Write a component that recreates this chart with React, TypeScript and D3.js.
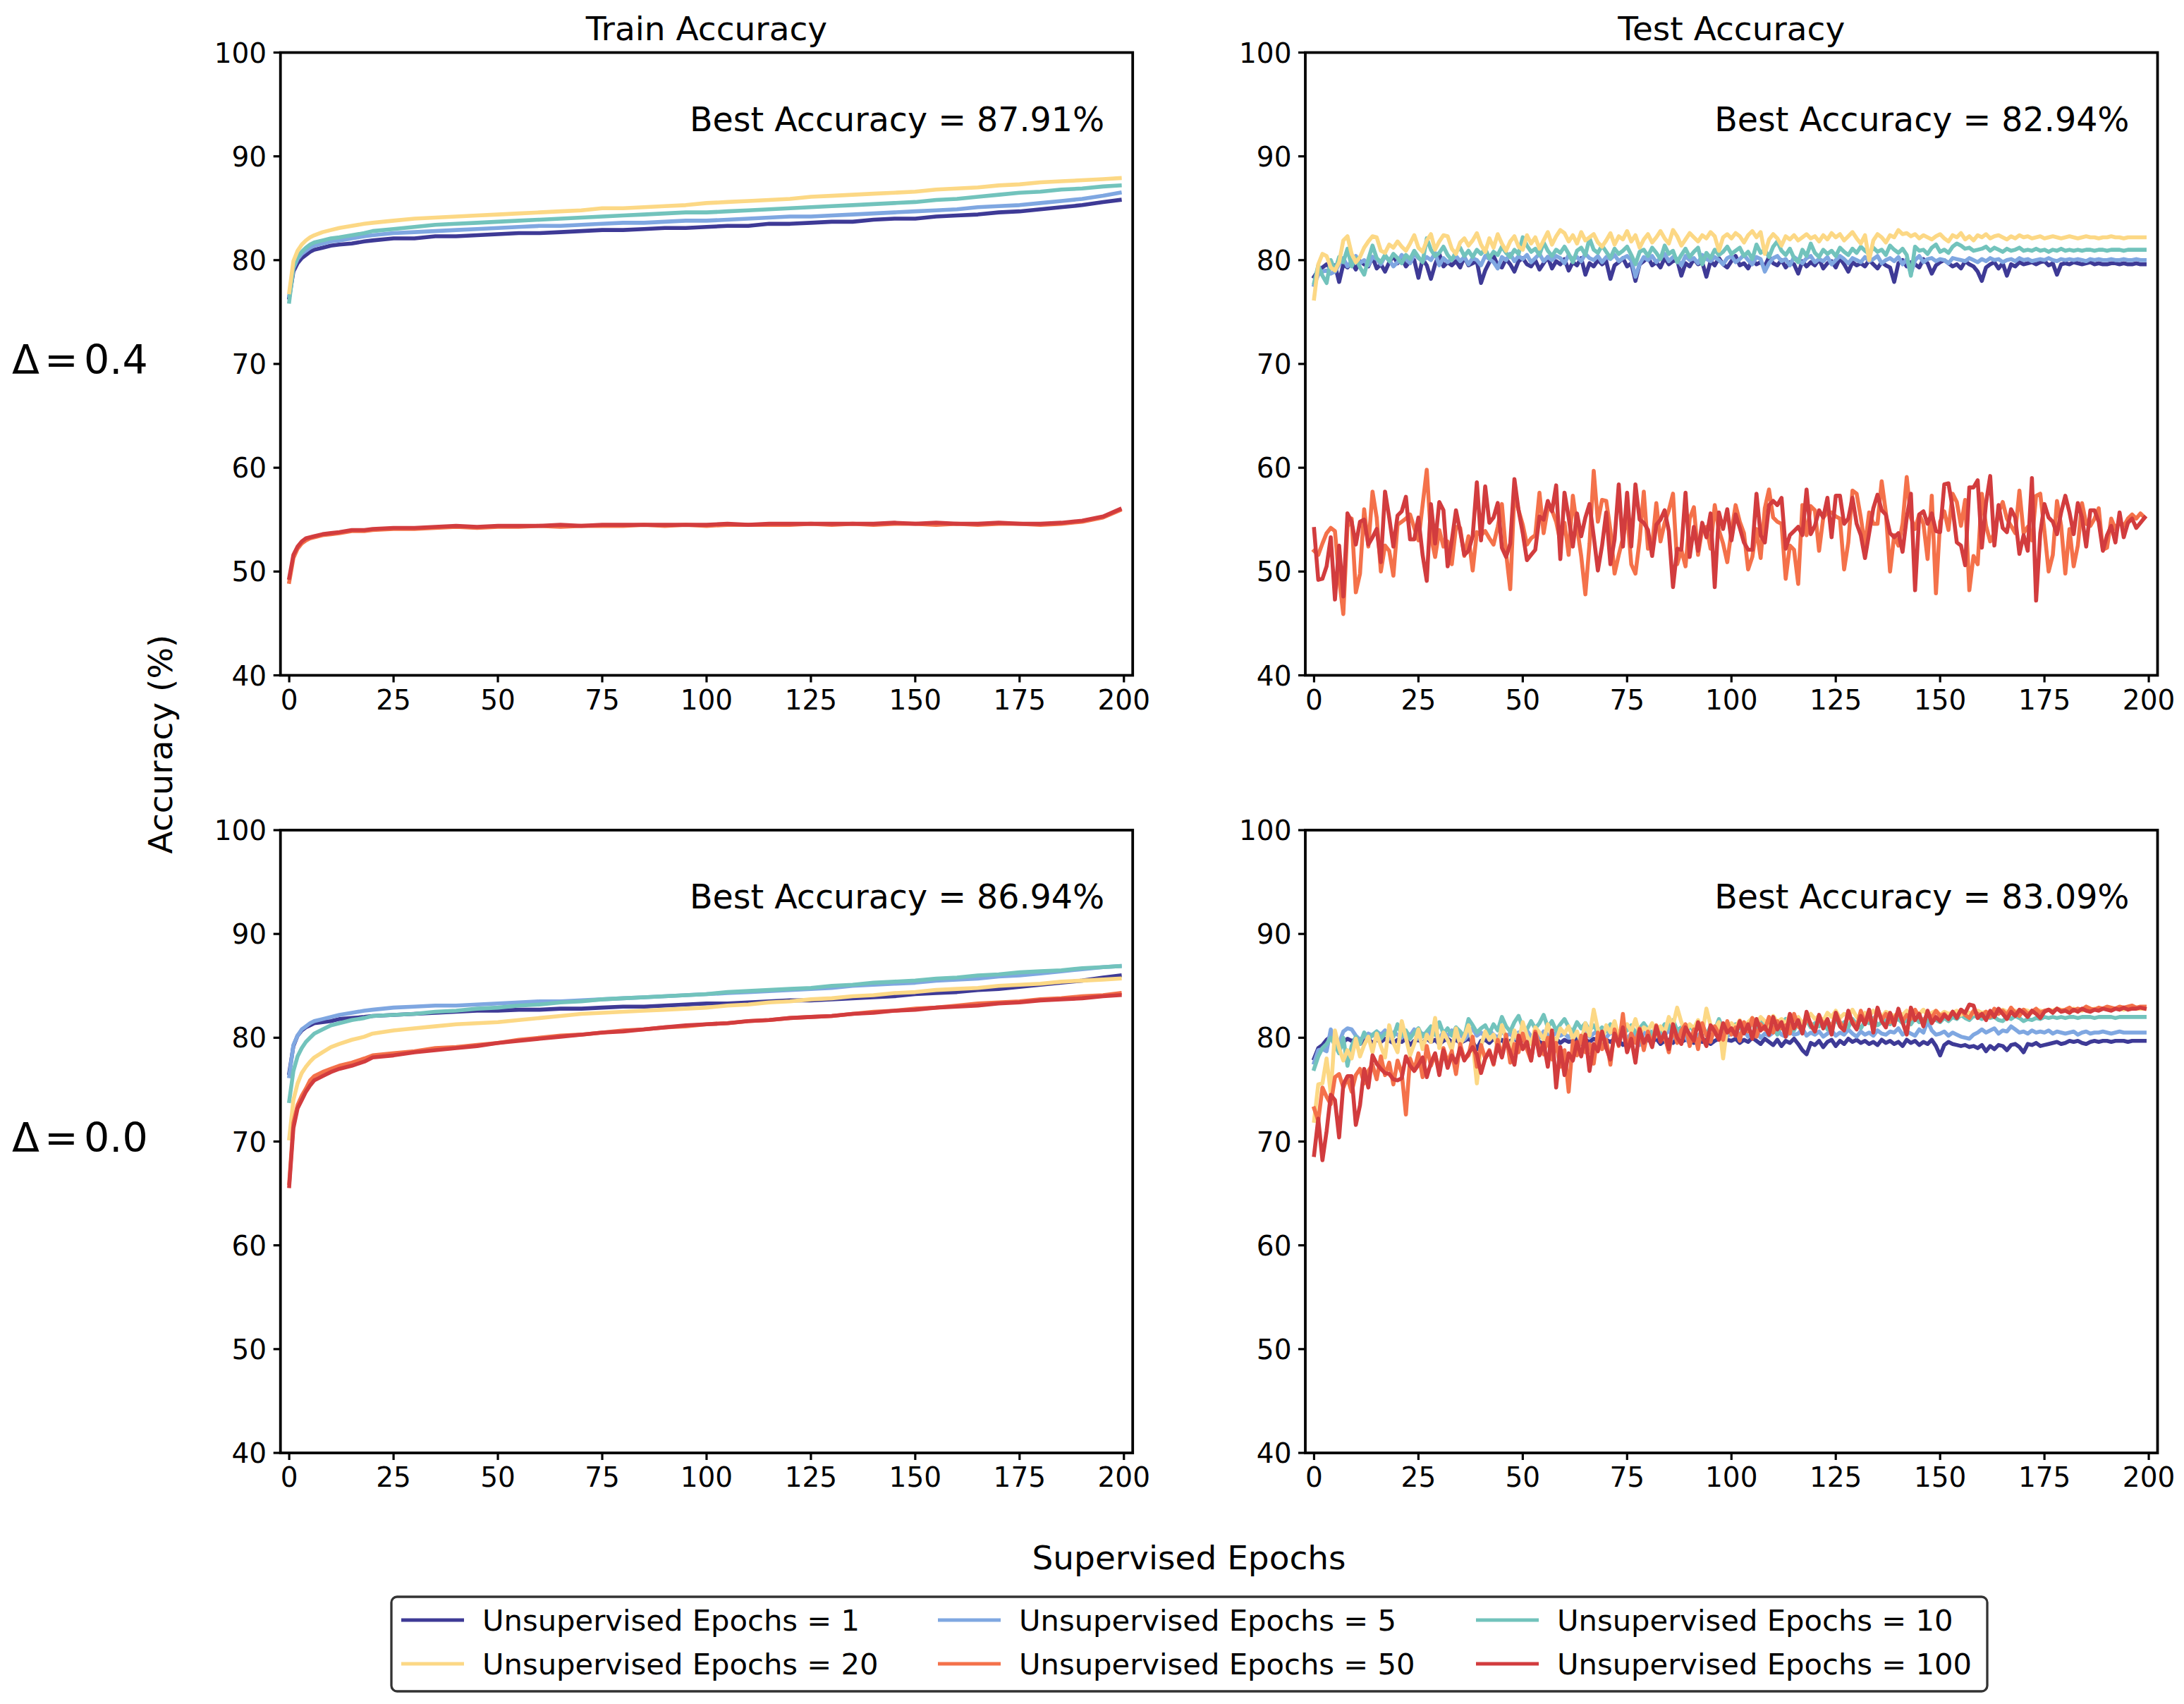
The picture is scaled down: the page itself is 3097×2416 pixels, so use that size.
import * as d3 from "d3";

// ---- data ----

// epochs at which the smooth train curves were read
const trainEpochs = [
  0, 1, 2, 3, 4, 5, 6, 8, 10, 12, 15, 18,
  20, 25, 30, 35, 40, 45, 50, 55, 60, 65, 70, 75,
  80, 85, 90, 95, 100, 105, 110, 115, 120, 125, 130, 135,
  140, 145, 150, 155, 160, 165, 170, 175, 180, 185, 190, 195,
  199,
];

// test curves: one value per epoch 0..199
const testEpochs = d3.range(200);

// Δ = 0.4, train accuracy
const train04_e1 = [
  76.4, 78.9, 79.7, 80.2, 80.5, 80.8, 81.0, 81.2, 81.4, 81.5, 81.6, 81.8,
  81.9, 82.1, 82.1, 82.3, 82.3, 82.4, 82.5, 82.6, 82.6, 82.7, 82.8, 82.9,
  82.9, 83.0, 83.1, 83.1, 83.2, 83.3, 83.3, 83.5, 83.5, 83.6, 83.7, 83.7,
  83.9, 84.0, 84.0, 84.2, 84.3, 84.4, 84.6, 84.7, 84.9, 85.1, 85.3, 85.6,
  85.8,
];
const train04_e5 = [
  76.6, 79.2, 80.1, 80.6, 80.9, 81.2, 81.4, 81.6, 81.8, 81.9, 82.1, 82.3,
  82.4, 82.6, 82.7, 82.8, 82.9, 83.0, 83.1, 83.2, 83.3, 83.3, 83.4, 83.5,
  83.6, 83.6, 83.7, 83.8, 83.8, 83.9, 84.0, 84.1, 84.2, 84.2, 84.3, 84.4,
  84.5, 84.6, 84.7, 84.8, 84.9, 85.1, 85.2, 85.3, 85.5, 85.7, 85.9, 86.2,
  86.5,
];
const train04_e10 = [
  76.0, 79.3, 80.3, 80.8, 81.2, 81.5, 81.7, 81.9, 82.1, 82.2, 82.4, 82.6,
  82.8, 83.0, 83.2, 83.4, 83.5, 83.6, 83.7, 83.8, 83.9, 84.0, 84.1, 84.2,
  84.3, 84.4, 84.5, 84.6, 84.6, 84.7, 84.8, 84.9, 85.0, 85.1, 85.2, 85.3,
  85.4, 85.5, 85.6, 85.8, 85.9, 86.1, 86.3, 86.5, 86.6, 86.8, 86.9, 87.1,
  87.2,
];
const train04_e20 = [
  76.9, 79.9, 80.9, 81.5, 81.9, 82.2, 82.4, 82.7, 82.9, 83.1, 83.3, 83.5,
  83.6, 83.8, 84.0, 84.1, 84.2, 84.3, 84.4, 84.5, 84.6, 84.7, 84.8, 85.0,
  85.0, 85.1, 85.2, 85.3, 85.5, 85.6, 85.7, 85.8, 85.9, 86.1, 86.2, 86.3,
  86.4, 86.5, 86.6, 86.8, 86.9, 87.0, 87.2, 87.3, 87.5, 87.6, 87.7, 87.8,
  87.9,
];
const train04_e50 = [
  49.0, 51.3, 52.2, 52.7, 53.0, 53.2, 53.3, 53.5, 53.6, 53.7, 53.9, 53.9,
  54.0, 54.1, 54.1, 54.2, 54.3, 54.2, 54.3, 54.3, 54.4, 54.3, 54.4, 54.4,
  54.4, 54.5, 54.4, 54.5, 54.4, 54.5, 54.5, 54.5, 54.5, 54.6, 54.5, 54.6,
  54.5, 54.6, 54.6, 54.5, 54.6, 54.5, 54.6, 54.6, 54.5, 54.6, 54.8, 55.2,
  55.9,
];
const train04_e100 = [
  49.4, 51.6, 52.4, 52.9, 53.2, 53.3, 53.4, 53.6, 53.7, 53.8, 54.0, 54.0,
  54.1, 54.2, 54.2, 54.3, 54.4, 54.3, 54.4, 54.4, 54.4, 54.5, 54.4, 54.5,
  54.5, 54.5, 54.5, 54.5, 54.5, 54.6, 54.5, 54.6, 54.6, 54.6, 54.6, 54.6,
  54.6, 54.7, 54.6, 54.7, 54.6, 54.6, 54.7, 54.6, 54.6, 54.7, 54.9, 55.3,
  56.0,
];

// Δ = 0.0, train accuracy
const train00_e1 = [
  76.6, 79.2, 80.2, 80.7, 81.0, 81.2, 81.4, 81.5, 81.6, 81.8, 81.9, 82.0,
  82.1, 82.2, 82.3, 82.4, 82.5, 82.6, 82.6, 82.7, 82.7, 82.8, 82.8, 82.9,
  83.0, 83.0, 83.1, 83.2, 83.3, 83.3, 83.4, 83.5, 83.6, 83.6, 83.7, 83.8,
  83.9, 84.0, 84.2, 84.3, 84.4, 84.6, 84.7, 84.9, 85.1, 85.3, 85.5, 85.8,
  86.0,
];
const train00_e5 = [
  76.3, 79.3, 80.2, 80.8, 81.1, 81.4, 81.6, 81.8, 82.0, 82.2, 82.4, 82.6,
  82.7, 82.9, 83.0, 83.1, 83.1, 83.2, 83.3, 83.4, 83.5, 83.5, 83.6, 83.7,
  83.8, 83.9, 84.0, 84.1, 84.2, 84.3, 84.4, 84.5, 84.6, 84.7, 84.8, 85.0,
  85.1, 85.2, 85.3, 85.5, 85.6, 85.7, 85.9, 86.0, 86.2, 86.4, 86.6, 86.8,
  86.9,
];
const train00_e10 = [
  73.9, 76.8, 78.2, 79.0, 79.6, 80.0, 80.4, 80.8, 81.2, 81.4, 81.7, 81.9,
  82.1, 82.2, 82.3, 82.5, 82.6, 82.8, 82.9, 83.1, 83.2, 83.4, 83.5, 83.7,
  83.8, 83.9, 84.0, 84.1, 84.2, 84.4, 84.5, 84.6, 84.7, 84.8, 85.0, 85.1,
  85.3, 85.4, 85.5, 85.7, 85.8, 86.0, 86.1, 86.3, 86.4, 86.5, 86.7, 86.8,
  86.9,
];
const train00_e20 = [
  70.3, 74.0, 75.6, 76.6, 77.2, 77.7, 78.1, 78.6, 79.1, 79.4, 79.8, 80.1,
  80.4, 80.7, 80.9, 81.1, 81.3, 81.4, 81.5, 81.7, 81.9, 82.1, 82.3, 82.4,
  82.5, 82.6, 82.7, 82.8, 82.9, 83.1, 83.2, 83.4, 83.5, 83.7, 83.8, 84.0,
  84.1, 84.3, 84.4, 84.6, 84.7, 84.8, 85.0, 85.1, 85.2, 85.4, 85.5, 85.6,
  85.7,
];
const train00_e50 = [
  66.0, 71.8, 73.5, 74.4, 75.1, 75.9, 76.3, 76.7, 77.0, 77.3, 77.6, 78.0,
  78.3, 78.5, 78.7, 79.0, 79.1, 79.3, 79.5, 79.8, 80.0, 80.2, 80.3, 80.5,
  80.7, 80.8, 81.0, 81.1, 81.3, 81.4, 81.6, 81.7, 81.9, 82.0, 82.1, 82.3,
  82.5, 82.6, 82.8, 82.9, 83.1, 83.3, 83.4, 83.5, 83.7, 83.8, 84.0, 84.1,
  84.3,
];
const train00_e100 = [
  65.7, 71.3, 73.2, 74.0, 74.8, 75.4, 75.9, 76.3, 76.7, 77.0, 77.3, 77.7,
  78.1, 78.3, 78.6, 78.8, 79.0, 79.2, 79.5, 79.7, 79.9, 80.1, 80.3, 80.5,
  80.6, 80.8, 81.0, 81.2, 81.3, 81.4, 81.6, 81.7, 81.9, 82.0, 82.1, 82.3,
  82.4, 82.6, 82.7, 82.9, 83.0, 83.1, 83.3, 83.4, 83.6, 83.7, 83.8, 84.0,
  84.1,
];

// Δ = 0.4, test accuracy
const test04_e1 = [
  78.4, 79.0, 79.3, 79.6, 79.2, 79.5, 77.9, 79.6, 79.3, 79.8, 79.1, 79.9, 79.6, 79.4, 80.3, 79.2, 79.6, 78.9, 79.8, 80.4,
  79.7, 80.2, 79.4, 79.9, 80.0, 78.3, 80.1, 79.5, 78.2, 79.6, 80.6, 79.4, 79.8, 79.5, 79.9, 79.3, 80.3, 79.5, 79.7, 79.9,
  77.8, 79.0, 79.8, 80.4, 79.5, 79.3, 80.1, 79.6, 78.9, 79.9, 80.2, 79.6, 79.4, 80.0, 79.1, 79.7, 80.3, 79.2, 79.9, 79.6,
  80.1, 79.0, 79.8, 79.5, 80.2, 78.6, 79.7, 79.4, 80.0, 79.6, 79.9, 78.2, 79.5, 79.8, 80.2, 79.4, 79.7, 78.0, 79.6, 79.9,
  80.3, 79.5, 79.8, 79.3, 80.2, 79.6, 79.9, 80.0, 78.5, 79.7, 79.4, 80.1, 79.6, 79.8, 78.4, 79.9, 79.5, 80.2, 79.6, 79.3,
  79.9, 80.4, 79.5, 79.7, 79.2, 80.0, 79.6, 79.8, 79.4, 80.3, 79.7, 79.5, 80.0, 79.3, 79.8, 79.6, 78.7, 79.9, 79.4, 79.8,
  79.5, 80.1, 79.2, 79.7, 79.9, 79.3, 80.2, 79.6, 78.9, 79.8, 79.5, 79.7, 79.4, 80.0, 79.6, 79.2, 79.8, 79.5, 79.3, 77.9,
  79.7, 80.0, 79.4, 79.8, 79.6, 79.3, 80.1, 79.7, 78.7, 79.5, 79.8, 80.0, 79.7, 79.4, 79.6, 79.2, 79.9, 79.6, 79.4, 78.9,
  78.0, 79.3, 79.6, 79.8, 79.2, 79.7, 78.5, 79.6, 79.4, 79.8, 79.6, 79.7, 79.8, 79.6, 79.8, 79.9, 79.5, 79.7, 78.6, 79.6,
  79.7, 79.6, 79.8, 79.7, 79.6, 79.7, 79.8, 79.6, 79.7, 79.6, 79.6, 79.7, 79.7, 79.6, 79.7, 79.6, 79.6, 79.7, 79.6, 79.6,
];
const test04_e5 = [
  77.6, 78.6, 78.9, 79.0, 78.7, 78.9, 79.6, 80.2, 79.4, 79.9, 80.4, 79.7, 80.0, 79.5, 80.3, 80.1, 79.6, 80.4, 80.0, 79.4,
  79.8, 80.5, 80.1, 79.7, 80.6, 80.2, 79.9, 80.3, 80.0, 80.7, 79.5, 80.2, 79.8, 80.1, 80.4, 79.9, 80.3, 79.6, 80.2, 80.0,
  79.5, 80.4, 80.1, 79.8, 79.2, 80.3, 80.0, 80.6, 79.9, 80.4, 80.1, 80.5, 79.8, 80.2, 80.6, 79.9, 80.3, 80.0, 80.4, 80.2,
  79.7, 80.5, 80.1, 80.3, 79.9, 80.6, 80.2, 80.0, 80.4, 79.8, 80.3, 80.1, 80.5, 79.9, 80.2, 80.4, 80.0, 78.4, 79.6, 80.3,
  80.0, 80.4, 79.8, 80.2, 80.6, 79.9, 80.3, 80.1, 79.5, 80.4, 80.0, 80.2, 79.7, 80.5, 80.1, 79.9, 80.3, 80.0, 79.6, 80.2,
  80.4, 79.8, 80.1, 80.5, 80.0, 79.6, 80.3, 80.1, 78.9, 79.7, 80.2, 80.4, 79.9, 80.1, 79.5, 80.3, 80.0, 79.7, 80.2, 80.4,
  79.8, 80.1, 79.9, 80.3, 79.6, 80.0, 80.4, 80.1, 79.7, 80.2, 80.0, 79.8, 80.3, 79.9, 80.1, 80.4, 79.7, 80.0, 80.2, 79.9,
  80.3, 79.6, 80.1, 78.7, 80.0, 80.4, 79.8, 80.1, 80.2, 79.9, 80.1, 80.0, 79.7, 80.2, 80.1, 80.0, 79.9, 80.2, 80.0, 79.8,
  80.1, 79.9, 80.2, 80.0, 80.1, 79.8, 80.0, 80.1, 79.9, 80.2, 80.0, 80.1, 79.9, 80.0, 80.1, 80.0, 80.2, 80.0, 79.9, 80.1,
  80.0, 80.1, 80.0, 80.1, 80.0, 79.9, 80.1, 80.0, 80.1, 80.0, 80.0, 80.1, 80.0, 80.0, 80.1, 80.0, 80.0, 80.1, 80.0, 80.0,
];
const test04_e10 = [
  77.8, 79.5, 78.5, 77.8, 80.0, 79.0, 80.3, 79.8, 81.1, 79.4, 80.2, 79.3, 78.6, 80.1, 81.4, 80.2, 79.8, 80.5, 79.9, 80.6,
  80.2, 79.7, 80.5, 80.1, 80.9, 80.3, 79.8, 82.1, 81.0, 80.4, 80.7, 81.3, 80.5, 80.0, 80.8, 81.2, 80.4, 80.9, 80.3, 81.0,
  80.6, 81.1, 80.2, 80.8, 80.5, 81.3, 80.7, 80.3, 81.0, 80.6, 82.2, 81.4, 80.8, 81.1, 80.5, 81.7, 80.9, 80.4, 81.0, 80.7,
  81.3, 80.6, 79.8, 80.9, 81.2, 80.5, 82.1, 81.0, 80.7, 81.4, 80.8, 80.2, 81.1, 80.6, 80.9, 81.3, 80.5, 79.6, 80.8, 81.0,
  80.4, 81.2, 80.7, 80.1, 81.4, 80.6, 80.9, 79.8, 80.5, 81.1, 80.3, 80.8, 81.2, 79.6, 80.7, 80.2, 81.0, 80.5, 80.8, 81.3,
  80.6, 80.9, 81.2, 80.4, 80.8, 80.1, 81.5, 80.7, 81.0, 80.3, 81.3, 81.8, 80.9, 80.5, 81.1, 80.2, 79.8, 81.0, 80.4, 81.6,
  80.7, 80.3, 81.0, 80.6, 80.9, 80.4, 81.2, 80.8, 80.5, 81.1, 80.7, 81.3, 80.9, 80.6, 81.2, 80.8, 81.0, 80.5, 81.4, 81.0,
  80.7, 81.1, 80.5, 78.5, 81.3, 80.9, 81.0, 80.6, 81.2, 81.5, 80.8, 81.0, 80.7, 81.3, 81.6, 81.4, 81.1, 81.2, 80.9, 81.0,
  81.1, 81.3, 80.9, 81.2, 81.0, 80.8, 81.1, 80.9, 81.0, 81.2, 80.9, 81.0, 80.9, 81.1, 80.9, 81.0, 80.8, 81.0, 80.9, 81.1,
  80.9, 81.0, 80.9, 81.0, 80.9, 81.0, 81.0, 80.9, 81.0, 81.0, 80.9, 81.0, 81.0, 81.0, 80.9, 81.0, 81.0, 81.0, 81.0, 81.0,
];
const test04_e20 = [
  76.3, 79.6, 80.6, 80.4, 79.3, 79.0, 79.8, 81.9, 82.3, 80.6, 79.8, 80.3, 81.2, 81.8, 82.3, 82.2, 80.9, 80.7, 81.5, 81.2,
  81.8, 81.3, 80.9, 81.6, 82.4, 81.2, 80.8, 81.9, 82.5, 81.0, 81.8, 82.4, 82.3, 81.1, 80.6, 81.7, 82.1, 81.4, 81.9, 82.6,
  81.5, 80.8, 82.1, 81.2, 82.5, 81.6, 80.9, 81.8, 82.3, 81.3, 81.0, 82.4, 81.6, 82.2, 81.1, 81.9, 82.7, 81.5, 82.3, 82.9,
  82.6, 81.8, 82.4, 81.6, 82.7, 81.9, 82.2, 82.5, 81.7, 81.3, 81.9, 82.6, 81.5, 82.3, 82.0, 82.8, 81.8, 82.4, 81.2, 82.0,
  82.5, 81.7, 82.2, 82.8, 82.1, 81.6, 82.9, 82.3, 81.4, 82.0, 82.6, 82.2, 81.8, 82.4, 82.1, 82.7, 82.3, 80.9, 82.2, 82.5,
  82.1, 82.6, 82.3, 81.7, 82.4, 82.8, 82.2, 82.7, 80.6, 82.0, 82.5, 82.1, 81.4, 82.3, 82.0, 82.4, 81.9, 82.2, 82.5, 82.1,
  82.3, 81.8, 82.4, 82.0, 82.6, 82.2, 82.5, 81.9, 82.3, 82.7, 82.1, 81.6, 82.4, 80.0, 81.9, 82.5, 82.2, 81.7, 82.4, 82.2,
  82.9, 82.5, 82.6, 82.3, 82.5, 82.1, 82.4, 82.2, 82.0, 82.3, 82.5, 82.1, 81.8, 82.4, 82.2, 82.6, 82.0, 82.3, 81.9, 82.4,
  82.2, 82.5, 82.1, 82.3, 82.4, 82.2, 82.0, 82.3, 82.1, 82.4, 82.2, 82.3, 82.1, 82.2, 82.3, 82.1, 82.2, 82.3, 82.2, 82.1,
  82.2, 82.3, 82.2, 82.1, 82.2, 82.3, 82.2, 82.2, 82.1, 82.2, 82.2, 82.3, 82.2, 82.2, 82.1, 82.2, 82.2, 82.2, 82.2, 82.2,
];
const test04_e50 = [
  52.0, 51.6, 52.7, 53.7, 54.2, 53.9, 49.3, 45.9, 54.3, 55.1, 48.0, 49.8, 56.0, 52.4, 57.7, 55.2, 50.0, 52.5, 52.0, 49.6,
  54.5, 54.8, 55.1, 55.5, 54.2, 53.0, 56.4, 59.8, 53.4, 51.4, 54.0, 52.4, 52.9, 50.7, 54.3, 54.2, 51.5, 53.4, 50.1, 53.8,
  53.5, 53.9, 53.2, 52.6, 54.3, 56.5, 51.8, 48.3, 57.6, 55.9, 54.5, 52.6, 53.2, 53.5, 57.6, 53.7, 56.1, 55.9, 54.8, 52.9,
  54.7, 51.6, 57.3, 54.3, 51.5, 47.8, 52.7, 59.7, 54.8, 56.9, 56.8, 54.0, 49.8, 51.6, 53.2, 55.6, 50.7, 49.8, 53.0, 57.7,
  52.2, 52.5, 56.6, 52.9, 54.7, 55.9, 57.5, 50.7, 52.1, 50.5, 55.1, 56.2, 51.6, 54.1, 54.3, 52.2, 56.4, 54.0, 52.7, 50.9,
  53.9, 56.4, 54.8, 53.7, 50.2, 51.4, 54.1, 51.3, 56.1, 57.9, 55.2, 54.8, 54.6, 49.3, 52.5, 52.1, 48.8, 56.4, 53.5, 56.3,
  55.9, 52.0, 55.2, 55.7, 55.7, 55.3, 55.1, 50.2, 52.8, 57.8, 57.5, 55.2, 52.5, 55.7, 54.6, 54.6, 58.7, 55.7, 50.0, 53.5,
  52.5, 54.6, 59.1, 55.2, 54.1, 55.5, 54.6, 51.2, 57.3, 47.9, 54.8, 55.8, 54.0, 57.5, 56.7, 54.4, 56.9, 48.2, 51.5, 50.7,
  57.5, 54.4, 52.9, 53.7, 55.7, 56.7, 55.1, 54.4, 53.7, 57.8, 53.7, 54.3, 53.0, 57.3, 57.5, 53.9, 50.0, 51.6, 56.8, 54.4,
  49.8, 54.1, 50.5, 52.5, 56.6, 54.6, 54.4, 55.1, 56.1, 52.1, 52.3, 55.1, 54.1, 54.8, 54.4, 55.1, 55.5, 55.1, 55.6, 55.2,
];
const test04_e100 = [
  54.1, 49.2, 49.3, 50.5, 53.3, 47.3, 52.5, 47.6, 55.6, 54.8, 52.6, 54.8, 55.0, 52.6, 53.3, 54.1, 50.9, 57.7, 55.2, 52.4,
  55.4, 55.8, 57.2, 53.1, 53.1, 55.2, 51.6, 49.1, 56.5, 52.7, 56.7, 55.9, 50.5, 53.0, 55.9, 53.9, 51.6, 52.0, 53.4, 58.6,
  53.0, 58.2, 54.7, 55.2, 56.6, 52.3, 51.4, 52.7, 58.9, 55.9, 53.7, 51.1, 51.6, 52.1, 55.3, 55.0, 56.8, 55.8, 58.3, 51.2,
  57.6, 55.2, 52.4, 55.6, 53.4, 55.2, 56.5, 53.4, 50.1, 52.5, 55.7, 50.7, 53.1, 58.4, 52.4, 57.6, 52.4, 58.4, 55.0, 54.7,
  54.0, 51.5, 54.5, 55.0, 55.9, 53.9, 48.5, 52.2, 52.1, 57.6, 51.4, 54.3, 52.0, 54.7, 53.3, 55.6, 48.5, 55.7, 54.1, 56.0,
  53.0, 55.5, 54.2, 52.8, 52.1, 52.1, 57.5, 53.5, 52.8, 56.4, 56.8, 56.4, 57.1, 52.2, 53.5, 53.9, 54.3, 53.5, 57.9, 53.6,
  54.4, 55.9, 55.2, 57.1, 53.3, 57.3, 57.3, 54.6, 55.1, 57.1, 54.6, 53.5, 51.3, 53.7, 56.1, 57.4, 55.9, 55.5, 53.7, 53.3,
  53.7, 51.9, 55.2, 57.5, 48.2, 55.5, 55.8, 54.6, 55.6, 53.9, 53.8, 58.4, 58.5, 56.1, 52.8, 52.5, 50.6, 58.1, 58.1, 58.8,
  52.3, 56.6, 59.2, 52.5, 56.4, 54.2, 53.8, 56.0, 55.2, 51.7, 53.5, 52.0, 59.0, 47.2, 53.7, 56.5, 55.2, 54.8, 53.6, 55.7,
  57.3, 55.7, 53.6, 56.6, 55.2, 52.4, 55.9, 55.9, 54.8, 52.0, 53.5, 54.4, 52.8, 55.7, 53.3, 54.7, 55.1, 54.2, 54.7, 55.2,
];

// Δ = 0.0, test accuracy
const test00_e1 = [
  78.0, 79.0, 79.3, 79.8, 80.1, 79.5, 78.8, 79.6, 79.9, 79.7, 79.8, 79.4, 79.7, 79.9, 79.5, 79.8, 79.6, 79.9, 79.7, 79.5,
  79.8, 79.6, 79.9, 79.3, 79.7, 79.8, 79.5, 79.9, 79.6, 79.8, 79.4, 79.7, 79.9, 79.6, 79.8, 79.5, 79.7, 79.9, 79.6, 78.9,
  79.7, 79.8, 79.5, 79.9, 79.6, 79.8, 79.3, 79.7, 79.9, 79.6, 79.8, 79.5, 79.7, 79.9, 79.6, 79.4, 79.8, 79.7, 79.9, 79.5,
  79.8, 79.6, 79.7, 79.9, 79.4, 79.8, 79.6, 79.9, 79.7, 79.5, 79.8, 79.6, 79.9, 79.7, 79.3, 79.8, 79.6, 79.9, 79.7, 79.5,
  79.8, 79.6, 79.9, 79.4, 79.7, 79.8, 79.5, 79.9, 79.6, 79.8, 79.7, 79.5, 79.9, 79.6, 79.8, 79.4, 79.7, 79.9, 79.6, 79.8,
  79.7, 79.9, 79.5, 79.8, 79.6, 80.0, 79.7, 79.4, 79.9, 79.6, 79.3, 79.8, 79.2, 79.7, 79.5, 79.9, 79.4, 78.8, 78.4, 79.5,
  79.3, 79.7, 79.1, 79.6, 79.8, 79.2, 79.7, 79.4, 79.9, 79.6, 79.8, 79.5, 79.7, 79.4, 79.6, 79.3, 79.8, 79.5, 79.7, 79.4,
  79.6, 79.2, 79.8, 79.5, 79.7, 79.3, 79.6, 79.4, 79.8, 79.2, 78.3, 79.3, 79.6, 79.4, 79.3, 79.2, 79.3, 79.1, 79.2, 79.0,
  79.3, 78.7, 79.2, 78.9, 79.3, 79.2, 78.8, 79.3, 79.4, 79.1, 78.6, 79.4, 79.3, 79.5, 79.2, 79.3, 79.4, 79.5, 79.6, 79.4,
  79.5, 79.7, 79.6, 79.7, 79.5, 79.4, 79.6, 79.7, 79.6, 79.7, 79.7, 79.6, 79.7, 79.7, 79.7, 79.6, 79.7, 79.7, 79.7, 79.7,
];
const test00_e5 = [
  77.6, 78.8, 78.9, 78.7, 80.8, 79.3, 79.5, 80.6, 80.9, 80.8, 80.2, 79.8, 80.1, 80.4, 80.2, 80.6, 80.3, 80.7, 79.9, 80.5,
  80.3, 80.0, 80.6, 80.2, 80.8, 79.9, 80.4, 80.1, 80.6, 80.3, 80.0, 80.5, 80.2, 80.7, 80.1, 80.4, 79.8, 80.3, 80.9, 80.2,
  80.5, 80.1, 80.7, 80.3, 80.0, 80.6, 80.2, 80.4, 79.9, 80.5, 80.2, 80.7, 80.1, 80.4, 80.0, 80.6, 80.3, 80.1, 80.5, 80.2,
  80.4, 80.0, 80.6, 80.3, 79.8, 80.5, 80.1, 80.4, 80.7, 80.2, 80.0, 80.5, 80.3, 80.1, 80.6, 79.9, 80.4, 80.2, 79.3, 80.5,
  80.3, 80.6, 80.1, 80.4, 80.2, 80.8, 80.0, 80.3, 80.5, 80.1, 79.4, 80.4, 80.2, 80.6, 80.3, 80.0, 80.5, 80.2, 80.4, 80.1,
  80.5, 80.2, 80.4, 80.7, 80.1, 80.3, 80.6, 80.0, 80.4, 80.2, 80.5, 80.8, 80.3, 80.1, 80.6, 80.3, 80.4, 80.9, 80.2, 80.5,
  80.3, 80.6, 80.1, 80.4, 80.7, 80.2, 80.5, 80.3, 80.8, 80.4, 80.1, 80.6, 80.3, 80.5, 80.2, 80.7, 80.4, 80.3, 80.6, 80.5,
  80.9, 80.3, 80.6, 80.4, 80.2, 80.8, 80.5, 81.6, 80.7, 80.3, 80.4, 80.6, 80.2, 80.5, 80.3, 80.1, 80.0, 79.9, 80.3, 80.5,
  80.8, 80.5, 80.7, 80.9, 80.4, 80.7, 80.6, 81.1, 80.8, 80.5, 80.6, 80.4, 80.7, 80.5, 80.6, 80.5, 80.7, 80.4, 80.6, 80.5,
  80.4, 80.5, 80.6, 80.3, 80.5, 80.6, 80.4, 80.5, 80.5, 80.6, 80.5, 80.4, 80.5, 80.6, 80.5, 80.5, 80.5, 80.5, 80.5, 80.5,
];
const test00_e10 = [
  77.0, 78.2, 79.0, 79.4, 80.0, 79.3, 78.5, 80.0, 77.3, 79.2, 80.1, 79.4, 80.5, 79.8, 80.3, 80.6, 79.9, 80.4, 80.5, 80.1,
  81.3, 80.2, 80.7, 79.9, 80.5, 80.9, 80.1, 80.6, 81.1, 80.3, 81.5, 80.4, 80.9, 80.2, 81.0, 80.6, 80.1, 81.8, 81.2, 80.5,
  80.9, 81.2, 80.4, 81.3, 80.7, 82.0, 81.1, 80.6, 81.5, 82.1, 81.0, 80.8, 81.6, 80.9, 81.4, 82.2, 81.0, 81.6, 80.7, 81.3,
  81.8, 81.0, 80.6, 81.5, 80.9, 81.4, 80.7, 81.2, 80.5, 81.0, 80.6, 81.3, 80.8, 80.4, 81.1, 80.7, 81.2, 80.5, 80.9, 81.4,
  80.8, 80.3, 81.1, 80.6, 81.3, 80.9, 81.7, 80.7, 81.0, 80.4, 81.2, 80.6, 81.5, 80.9, 80.3, 81.1, 80.7, 81.8, 80.8, 81.2,
  80.6, 81.3, 80.9, 81.1, 80.7, 81.5, 81.0, 81.6, 80.9, 81.3, 81.0, 80.3, 81.4, 81.8, 81.1, 80.7, 81.5, 81.2, 81.7, 81.0,
  81.4, 81.1, 81.6, 80.8, 81.3, 81.7, 81.2, 81.5, 81.0, 81.8, 81.3, 80.9, 81.6, 81.4, 81.9, 81.2, 81.5, 81.7, 81.3, 81.6,
  81.8, 81.4, 81.7, 81.3, 81.9, 81.5, 81.8, 81.6, 82.1, 81.7, 81.5, 81.9, 81.6, 82.0, 81.8, 82.2, 81.9, 81.7, 82.1, 82.0,
  81.8, 82.1, 81.9, 82.0, 81.7, 81.6, 82.0, 81.8, 82.1, 81.9, 81.6, 81.8, 81.7, 81.9, 81.8, 82.0, 81.9, 82.0, 81.9, 82.0,
  81.9, 82.0, 82.0, 81.9, 82.0, 82.0, 82.0, 81.9, 82.0, 82.0, 82.0, 82.0, 81.9, 82.0, 82.0, 82.0, 82.0, 82.0, 82.0, 82.0,
];
const test00_e20 = [
  72.0, 75.5, 75.6, 78.0, 74.6, 80.7, 79.0, 77.8, 78.8, 78.0, 79.9, 78.2, 79.3, 80.1, 78.6, 80.4, 79.2, 78.1, 81.2, 79.5,
  78.6, 81.6, 80.0, 78.3, 79.4, 80.8, 78.9, 80.3, 79.6, 81.9, 79.0, 80.5, 79.8, 78.8, 80.9, 79.3, 80.1, 81.2, 79.6, 75.6,
  79.2, 80.6, 79.8, 80.3, 79.1, 81.2, 80.0, 78.9, 80.7, 79.6, 81.5, 80.2, 79.4, 81.0, 80.5, 79.8, 81.3, 80.1, 79.7, 80.9,
  80.4, 81.1, 79.9, 80.6, 79.5, 81.4, 80.2, 82.7, 80.8, 79.7, 81.2, 80.5, 81.6, 80.1, 80.9, 81.3, 80.6, 81.8, 80.3, 81.0,
  80.7, 81.4, 80.2, 81.1, 80.5, 82.0, 81.2, 82.9, 81.5, 80.6, 81.3, 80.9, 81.7, 80.4, 82.8, 81.2, 80.8, 81.5, 78.0, 81.1,
  81.4, 81.0, 81.7, 80.8, 81.5, 81.9, 81.3, 82.0, 81.6, 81.1, 82.1, 81.5, 81.8, 81.3, 82.2, 81.7, 82.0, 81.4, 81.9, 82.3,
  81.8, 82.1, 81.6, 82.4, 82.0, 82.6, 81.9, 82.3, 82.1, 82.7, 82.0, 81.7, 82.4, 82.1, 82.6, 82.2, 82.0, 82.5, 82.3, 82.1,
  82.4, 82.2, 82.6, 82.0, 82.5, 82.3, 82.7, 82.1, 82.4, 82.6, 82.2, 82.5, 82.3, 82.4, 82.6, 82.2, 82.5, 82.4, 82.3, 82.6,
  82.4, 82.5, 82.3, 82.6, 82.4, 82.7, 82.5, 82.4, 82.6, 82.5, 82.7, 82.6, 82.4, 82.7, 82.6, 82.5, 82.7, 82.6, 82.8, 82.7,
  82.6, 82.7, 82.8, 82.7, 82.6, 82.8, 82.7, 82.8, 82.7, 82.8, 82.8, 82.7, 82.8, 82.8, 82.7, 82.8, 82.8, 82.8, 82.8, 82.8,
];
const test00_e50 = [
  73.2, 72.0, 75.2, 74.3, 73.6, 76.2, 76.5, 75.2, 76.1, 74.8, 76.4, 77.0, 75.6, 76.8, 77.4, 76.0, 78.2, 76.4, 77.6, 75.5,
  77.8, 76.6, 72.6, 78.0, 76.9, 78.5, 76.2, 79.2, 77.3, 78.4, 76.8, 79.0, 77.6, 78.7, 76.5, 79.4, 77.9, 78.3, 80.1, 77.2,
  79.3, 78.0, 78.8, 77.4, 79.8, 78.2, 80.3, 77.6, 79.4, 78.6, 80.4, 78.9, 77.8, 80.6, 79.1, 78.4, 80.0, 77.9, 79.5, 77.2,
  78.8, 74.8, 79.7, 78.3, 80.2, 78.6, 79.4, 77.5, 80.5, 78.9, 79.8, 77.4, 80.8, 79.2, 82.3, 78.7, 80.4, 79.5, 80.9, 78.8,
  80.6, 79.3, 81.2, 79.7, 80.1, 78.6, 81.0, 79.5, 80.7, 81.3, 79.2, 80.8, 78.9, 81.4, 80.2, 79.6, 81.1, 80.4, 79.8, 81.6,
  80.3, 81.0, 79.7, 81.5, 80.6, 81.9, 80.1, 81.3, 80.8, 82.0, 80.5, 81.6, 80.9, 81.2, 80.4, 82.3, 81.1, 80.7, 81.8, 81.4,
  80.6, 82.1, 81.3, 81.7, 80.9, 82.4, 81.5, 80.8, 82.2, 81.6, 81.0, 82.6, 81.4, 82.0, 81.2, 82.8, 81.7, 82.3, 81.5, 81.9,
  82.5, 81.6, 82.2, 81.8, 82.7, 82.0, 81.5, 82.4, 81.9, 82.6, 82.1, 82.3, 81.8, 82.5, 82.0, 82.7, 82.2, 81.9, 82.6, 82.3,
  82.1, 82.5, 82.0, 82.8, 82.3, 82.6, 82.2, 82.9, 82.4, 82.1, 82.7, 82.3, 82.5, 82.8, 82.4, 82.6, 82.7, 82.5, 82.8, 82.6,
  82.7, 82.9, 82.6, 82.8, 82.7, 83.0, 82.8, 82.7, 82.9, 82.8, 83.0, 82.9, 82.8, 83.0, 82.9, 83.0, 83.1, 82.9, 83.0, 83.0,
];
const test00_e100 = [
  68.7, 72.2, 68.2, 71.0, 74.5, 74.0, 70.4, 75.5, 76.3, 76.3, 71.6, 73.5, 77.0, 75.2, 78.3, 77.5, 77.0, 76.6, 76.5, 76.0,
  75.9, 76.1, 78.2, 77.3, 76.8, 77.4, 78.1, 76.2, 77.6, 78.5, 76.4, 78.8, 77.1, 78.3, 77.6, 79.0, 77.8, 78.5, 79.1, 78.4,
  76.6, 78.0, 78.7, 77.5, 79.3, 78.1, 79.8, 78.6, 77.4, 80.2, 78.9, 79.6, 77.8, 80.4, 78.3, 79.5, 77.2, 80.7, 75.2, 79.1,
  76.4, 78.5, 77.8, 79.6, 78.2, 80.3, 76.8, 79.4, 78.7, 80.6, 79.0, 77.9, 80.4, 79.3, 81.0, 78.6, 79.9, 77.6, 80.8, 79.5,
  80.2, 79.1, 81.1, 79.6, 80.5, 78.9, 81.3, 80.0, 79.4, 81.0, 80.3, 79.7, 81.5, 80.1, 79.2, 81.2, 80.6, 79.8, 81.4, 80.5,
  80.9, 80.2, 81.6, 80.4, 81.3, 79.9, 81.8, 80.7, 81.1, 80.3, 82.0, 80.8, 81.5, 80.1, 82.3, 80.9, 81.7, 80.4, 82.5, 81.2,
  80.6, 82.2, 80.9, 81.8, 80.3, 82.4, 81.1, 80.7, 82.6, 81.4, 80.8, 82.1, 81.3, 82.7, 80.5, 82.9, 81.6, 81.0, 82.4, 81.2,
  82.8, 81.5, 80.3, 82.9, 81.7, 82.3, 81.1, 82.6, 81.4, 82.0, 81.6, 82.2, 81.8, 82.5, 81.9, 82.7, 82.4, 83.2, 83.1, 81.9,
  82.3, 81.7, 82.6, 82.0, 82.8, 82.3, 81.8, 82.5, 82.1, 82.7, 82.4, 82.0, 82.6, 82.3, 81.9, 82.5, 82.7, 82.4, 82.8, 82.5,
  82.6, 82.4, 82.7, 82.5, 82.8, 82.6, 82.5, 82.7, 82.6, 82.8, 82.7, 82.6, 82.8, 82.7, 82.9, 82.7, 82.8, 82.8, 82.9, 82.8,
];

const seriesLabels = [
  "Unsupervised Epochs = 1",
  "Unsupervised Epochs = 5",
  "Unsupervised Epochs = 10",
  "Unsupervised Epochs = 20",
  "Unsupervised Epochs = 50",
  "Unsupervised Epochs = 100",
];
const seriesColors = ["#3e3a96", "#7fa7e1", "#72c3bc", "#fcd885", "#f4714a", "#d23c3e"];

const columnTitles = ["Train Accuracy", "Test Accuracy"];
const rowDeltas = ["0.4", "0.0"];
const bestLabels = [
  "Best Accuracy = 87.91%",
  "Best Accuracy = 82.94%",
  "Best Accuracy = 86.94%",
  "Best Accuracy = 83.09%",
];
const yTicks = [40, 50, 60, 70, 80, 90, 100];
const xTicks = [0, 25, 50, 75, 100, 125, 150, 175, 200];

// ---- layout ----
const W = 3097;
const H = 2416;
const FONT = "'DejaVu Sans', 'Liberation Sans', sans-serif";
const colLeft = [397.7, 1851];
const rowTop = [74.5, 1177];
const panelW = 1208.5;
const panelH = 883;

const panels = [
  { row: 0, col: 0, xs: trainEpochs, ys: [train04_e1, train04_e5, train04_e10, train04_e20, train04_e50, train04_e100], best: bestLabels[0] },
  { row: 0, col: 1, xs: testEpochs, ys: [test04_e1, test04_e5, test04_e10, test04_e20, test04_e50, test04_e100], best: bestLabels[1] },
  { row: 1, col: 0, xs: trainEpochs, ys: [train00_e1, train00_e5, train00_e10, train00_e20, train00_e50, train00_e100], best: bestLabels[2] },
  { row: 1, col: 1, xs: testEpochs, ys: [test00_e1, test00_e5, test00_e10, test00_e20, test00_e50, test00_e100], best: bestLabels[3] },
];

function Panel({ p, idx }: { p: (typeof panels)[number]; idx: number }) {
  const x = d3.scaleLinear().domain([-2.1, 202.1]).range([0, panelW]);
  const y = d3.scaleLinear().domain([40, 100]).range([panelH, 0]);
  const clipId = `clip-${idx}`;

  return (
    <g transform={`translate(${colLeft[p.col]},${rowTop[p.row]})`}>
      <defs>
        <clipPath id={clipId}>
          <rect width={panelW} height={panelH} />
        </clipPath>
      </defs>

      <g clipPath={`url(#${clipId})`}>
        {p.ys.map((vals, k) => {
          const line = d3
            .line<number>()
            .x((_, j) => x(p.xs[j]))
            .y((v) => y(v));
          return (
            <path
              key={k}
              d={line(vals) ?? ""}
              fill="none"
              stroke={seriesColors[k]}
              strokeWidth={5.6}
              strokeLinejoin="round"
              strokeLinecap="square"
            />
          );
        })}
      </g>

      {/* y axis */}
      {yTicks.map((t) => (
        <g key={`y${t}`}>
          <line x1={-10} x2={0} y1={y(t)} y2={y(t)} stroke="#000" strokeWidth={3.2} />
          <text x={-19.5} y={y(t) + 14} textAnchor="end" fontSize={39}>
            {t}
          </text>
        </g>
      ))}

      {/* x axis */}
      {xTicks.map((t) => (
        <g key={`x${t}`}>
          <line x1={x(t)} x2={x(t)} y1={panelH} y2={panelH + 10} stroke="#000" strokeWidth={3.2} />
          <text x={x(t)} y={panelH + 48} textAnchor="middle" fontSize={39}>
            {t}
          </text>
        </g>
      ))}

      <rect width={panelW} height={panelH} fill="none" stroke="#000" strokeWidth={3.8} />

      <text x={panelW - 40} y={111} textAnchor="end" fontSize={47.5}>
        {p.best}
      </text>
    </g>
  );
}

export default function App() {
  const legendCols = [569, 1330, 2093];
  const legendRows = [2297, 2359];

  return (
    <svg
      width={W}
      height={H}
      viewBox={`0 0 ${W} ${H}`}
      style={{ position: "absolute", left: 0, top: 0, background: "#fff" }}
      fontFamily={FONT}
      fill="#000"
    >
      <rect width={W} height={H} fill="#fff" />

      {panels.map((p, i) => (
        <Panel key={i} p={p} idx={i} />
      ))}

      {/* column titles */}
      {columnTitles.map((t, c) => (
        <text key={t} x={colLeft[c] + panelW / 2} y={57} textAnchor="middle" fontSize={47}>
          {t}
        </text>
      ))}

      {/* row labels */}
      {rowDeltas.map((d, r) => {
        const base = rowTop[r] + 455.5;
        return (
          <text key={d} y={base} fontSize={57}>
            <tspan x={17}>Δ</tspan>
            <tspan x={63}>=</tspan>
            <tspan x={119}>{d}</tspan>
          </text>
        );
      })}

      {/* shared axis labels */}
      <text transform="translate(244,1055) rotate(-90)" textAnchor="middle" fontSize={47}>
        Accuracy (%)
      </text>
      <text x={1686} y={2225} textAnchor="middle" fontSize={47}>
        Supervised Epochs
      </text>

      {/* legend */}
      <rect x={555} y={2264} width={2263} height={134} rx={8} fill="#fff" stroke="#333" strokeWidth={3.3} />
      {seriesLabels.map((label, i) => {
        const cx = legendCols[i % 3];
        const cy = legendRows[Math.floor(i / 3)];
        return (
          <g key={label}>
            <line x1={cx} x2={cx + 89} y1={cy} y2={cy} stroke={seriesColors[i]} strokeWidth={4.8} />
            <text x={cx + 115} y={cy + 15} fontSize={41.7}>
              {label}
            </text>
          </g>
        );
      })}
    </svg>
  );
}
